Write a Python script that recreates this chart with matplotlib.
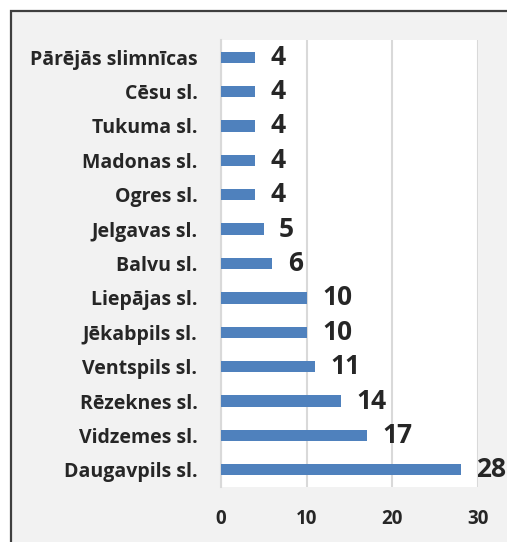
import matplotlib
matplotlib.use("Agg")
import matplotlib.pyplot as plt
from matplotlib.patches import Rectangle

# data (bottom to top)
hospitals = ["Daugavpils sl.", "Vidzemes sl.", "Rēzeknes sl.", "Ventspils sl.",
             "Jēkabpils sl.", "Liepājas sl.", "Balvu sl.", "Jelgavas sl.",
             "Ogres sl.", "Madonas sl.", "Tukuma sl.", "Cēsu sl.",
             "Pārējās slimnīcas"]
counts = [28, 17, 14, 11, 10, 10, 6, 5, 4, 4, 4, 4, 4]
xticks = [0, 10, 20, 30]

plt.rcParams['font.family'] = ['Open Sans', 'DejaVu Sans']
TXT = '#262626'

fig = plt.figure(figsize=(5.07, 5.42), dpi=100, facecolor='white')
W, H = 507, 542

# outer chart frame (cut off at right and bottom)
frame = Rectangle((11 / W, -0.05), 1.1, (H - 10.5) / H + 0.05,
                  transform=fig.transFigure, facecolor='#f2f2f2',
                  edgecolor='#3f3f3f', linewidth=1.6, zorder=-5)
fig.patches.append(frame)

ax = fig.add_axes([221 / W, (H - 487) / H, (478 - 221) / W, 447 / H])
ax.set_facecolor('white')

ypos = list(range(len(hospitals)))
bars = ax.barh(ypos, counts, height=0.33, color='#4f81bd', zorder=3)
ax.bar_label(bars, labels=[str(c) for c in counts], padding=11,
             fontsize=19, fontweight='bold', color=TXT)

ax.set_xlim(0, 30)
ax.set_ylim(-0.5, len(hospitals) - 0.5)
ax.set_yticks(ypos)
ax.set_yticklabels(hospitals, fontsize=14, fontweight='bold', color=TXT)
ax.set_xticks(xticks)
ax.set_xticklabels([str(t) for t in xticks], fontsize=13.5, fontweight='bold', color=TXT)
ax.tick_params(axis='both', length=0)
ax.tick_params(axis='y', pad=17)
ax.tick_params(axis='x', pad=16)

ax.grid(axis='x', color='#d9d9d9', linewidth=1.5, zorder=0)
for s in ['top', 'right', 'bottom']:
    ax.spines[s].set_visible(False)
ax.spines['left'].set_color('#d9d9d9')
ax.spines['left'].set_linewidth(1.5)

fig.savefig('out.png', dpi=100, facecolor=fig.get_facecolor())
